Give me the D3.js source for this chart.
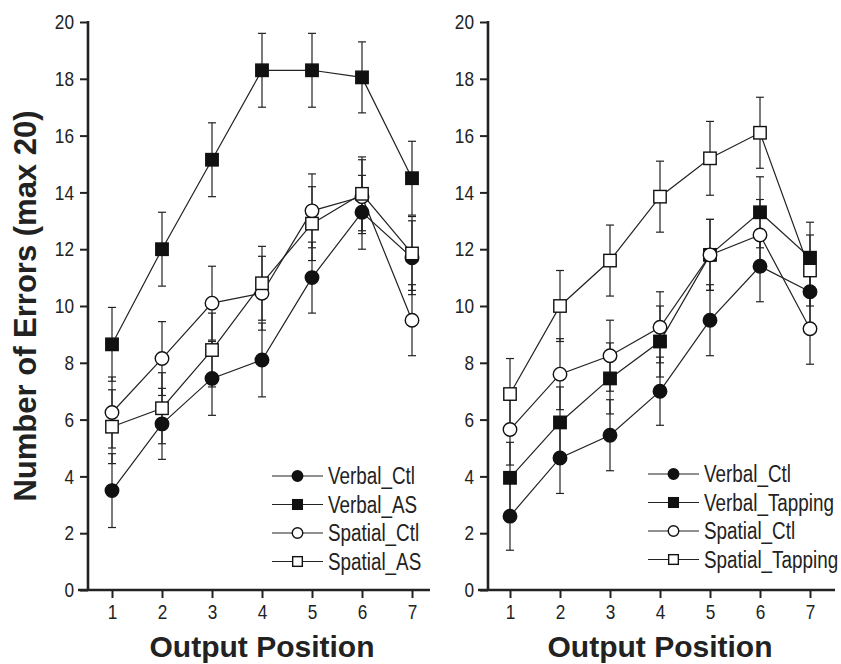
<!DOCTYPE html>
<html>
<head>
<meta charset="utf-8">
<script src="https://cdn.jsdelivr.net/npm/d3@7"></script>
<style>
  body { margin: 0; background: #fff; }
  svg { display: block; }
</style>
</head>
<body>
<div id="chart"></div>
<script>
// Errors by output position, two panels

const positions = [1, 2, 3, 4, 5, 6, 7];
const yTicks = [0, 2, 4, 6, 8, 10, 12, 14, 16, 18, 20];

// left panel (articulatory suppression)
const leftNames = ["Verbal_Ctl", "Verbal_AS", "Spatial_Ctl", "Spatial_AS"];
const leftVerbalCtl = [3.5, 5.85, 7.45, 8.1, 11.0, 13.3, 11.7];
const leftVerbalAS = [8.65, 12.0, 15.15, 18.3, 18.3, 18.05, 14.5];
const leftSpatialCtl = [6.25, 8.15, 10.1, 10.45, 13.35, 13.85, 9.5];
const leftSpatialAS = [5.75, 6.4, 8.45, 10.8, 12.9, 13.95, 11.85];
const leftErrVerbalCtl = [1.3, 1.25, 1.3, 1.3, 1.25, 1.3, 1.3];
const leftErrVerbalAS = [1.3, 1.3, 1.3, 1.3, 1.3, 1.25, 1.3];
const leftErrSpatialCtl = [1.25, 1.3, 1.3, 1.3, 1.3, 1.3, 1.25];
const leftErrSpatialAS = [1.3, 1.25, 1.3, 1.3, 1.3, 1.3, 1.3];

// right panel (tapping)
const rightNames = ["Verbal_Ctl", "Verbal_Tapping", "Spatial_Ctl", "Spatial_Tapping"];
const rightVerbalCtl = [2.6, 4.65, 5.45, 7.0, 9.5, 11.4, 10.5];
const rightVerbalTap = [3.95, 5.9, 7.45, 8.75, 11.8, 13.3, 11.7];
const rightSpatialCtl = [5.65, 7.6, 8.25, 9.25, 11.8, 12.5, 9.2];
const rightSpatialTap = [6.9, 10.0, 11.6, 13.85, 15.2, 16.1, 11.25];
const rightErrVerbalCtl = [1.2, 1.25, 1.25, 1.2, 1.25, 1.25, 1.25];
const rightErrVerbalTap = [1.25, 1.25, 1.25, 1.25, 1.25, 1.25, 1.25];
const rightErrSpatialCtl = [1.25, 1.25, 1.25, 1.25, 1.25, 1.25, 1.25];
const rightErrSpatialTap = [1.25, 1.25, 1.25, 1.25, 1.3, 1.25, 1.25];

const markers = ["filledCircle", "filledSquare", "openCircle", "openSquare"];

const W = 841, H = 664;
const font = "'Liberation Sans', Arial, sans-serif";
const narrow = 0.82; // squeeze to look like Arial Narrow

const svg = d3.select("#chart").append("svg")
    .attr("width", W)
    .attr("height", H);

const y = d3.scaleLinear().domain([0, 20]).range([590, 22]);

function drawMarker(g, type, cx, cy, size) {
    const filled = type.startsWith("filled");
    if (type.endsWith("Circle")) {
        g.append("circle")
            .attr("cx", cx).attr("cy", cy).attr("r", size / 2)
            .attr("fill", filled ? "#111" : "#fff")
            .attr("stroke", "#111").attr("stroke-width", 1.4);
    } else {
        const s = size * 0.92;
        g.append("rect")
            .attr("x", cx - s / 2).attr("y", cy - s / 2)
            .attr("width", s).attr("height", s)
            .attr("fill", filled ? "#111" : "#fff")
            .attr("stroke", "#111").attr("stroke-width", 1.4);
    }
}

function panel(opts) {
    const x = d3.scaleLinear().domain(opts.xDomain).range(opts.xRange);
    const g = svg.append("g");
    const x0 = opts.xRange[0];

    // y axis
    const yAxis = g.append("g")
        .attr("transform", `translate(${x0},0)`)
        .call(d3.axisLeft(y).tickValues(yTicks).tickSize(8).tickPadding(5).tickSizeOuter(0));
    yAxis.select(".domain").remove();
    yAxis.selectAll(".tick line").attr("stroke", "#222").attr("stroke-width", 2);
    yAxis.selectAll("text")
        .attr("x", -14 / narrow)
        .attr("transform", `scale(${narrow},1)`)
        .attr("font-family", font)
        .attr("font-size", 21)
        .attr("fill", "#222");

    // x axis
    const xAxis = g.append("g")
        .attr("transform", `translate(0,${y(0)})`)
        .call(d3.axisBottom(x).tickValues(positions).tickSize(8).tickPadding(6).tickFormat(d3.format("d")));
    xAxis.select(".domain").remove();
    xAxis.selectAll(".tick line").attr("stroke", "#222").attr("stroke-width", 2);
    xAxis.selectAll("text")
        .attr("transform", `scale(${narrow},1)`)
        .attr("font-family", font)
        .attr("font-size", 21)
        .attr("fill", "#222");

    g.append("line")
        .attr("x1", x0).attr("x2", x0)
        .attr("y1", y(0)).attr("y2", y(20) - 1)
        .attr("stroke", "#222").attr("stroke-width", 2.6);
    g.append("line")
        .attr("x1", x0 - 10).attr("x2", opts.xRange[1])
        .attr("y1", y(0)).attr("y2", y(0))
        .attr("stroke", "#222").attr("stroke-width", 2.6);

    const line = d3.line().x((d, i) => x(positions[i])).y(d => y(d));

    // error bars
    opts.series.forEach((vals, k) => {
        const err = opts.errors[k];
        vals.forEach((v, i) => {
            const px = x(positions[i]);
            const lo = y(v - err[i]), hi = y(v + err[i]);
            g.append("line").attr("x1", px).attr("x2", px).attr("y1", lo).attr("y2", hi)
                .attr("stroke", "#222").attr("stroke-width", 1.2);
            [lo, hi].forEach(yy => {
                g.append("line").attr("x1", px - 4).attr("x2", px + 4).attr("y1", yy).attr("y2", yy)
                    .attr("stroke", "#222").attr("stroke-width", 1.2);
            });
        });
    });

    // lines
    opts.series.forEach(vals => {
        g.append("path")
            .attr("d", line(vals))
            .attr("fill", "none")
            .attr("stroke", "#222")
            .attr("stroke-width", 1.2);
    });

    // markers
    opts.series.forEach((vals, k) => {
        vals.forEach((v, i) => drawMarker(g, markers[k], x(positions[i]), y(v), 13.5));
    });

    // legend
    const lg = g.append("g");
    opts.names.forEach((name, k) => {
        const ly = opts.legendY + k * 28.5;
        lg.append("line")
            .attr("x1", opts.legendX).attr("x2", opts.legendX + 51)
            .attr("y1", ly).attr("y2", ly)
            .attr("stroke", "#222").attr("stroke-width", 1.2);
        drawMarker(lg, markers[k], opts.legendX + 25.5, ly, 10.5);
        lg.append("text")
            .attr("transform", `translate(${opts.legendX + 56},${ly}) scale(${narrow},1)`)
            .attr("dy", "0.36em")
            .attr("font-family", font)
            .attr("font-size", 23)
            .attr("fill", "#222")
            .text(name);
    });

    // x title
    g.append("text")
        .attr("x", (x(1) + x(7)) / 2)
        .attr("y", 657)
        .attr("text-anchor", "middle")
        .attr("font-family", font)
        .attr("font-weight", "bold")
        .attr("font-size", 30)
        .attr("fill", "#222")
        .text("Output Position");
}

panel({
    xDomain: [0.52, 7.36], xRange: [88, 430],
    series: [leftVerbalCtl, leftVerbalAS, leftSpatialCtl, leftSpatialAS],
    errors: [leftErrVerbalCtl, leftErrVerbalAS, leftErrSpatialCtl, leftErrSpatialAS],
    names: leftNames, legendX: 272, legendY: 476
});

panel({
    xDomain: [0.56, 7.5], xRange: [488, 835],
    series: [rightVerbalCtl, rightVerbalTap, rightSpatialCtl, rightSpatialTap],
    errors: [rightErrVerbalCtl, rightErrVerbalTap, rightErrSpatialCtl, rightErrSpatialTap],
    names: rightNames, legendX: 648, legendY: 474
});

// y title
svg.append("text")
    .attr("transform", "translate(36,306) rotate(-90)")
    .attr("text-anchor", "middle")
    .attr("font-family", font)
    .attr("font-weight", "bold")
    .attr("font-size", 31)
    .attr("fill", "#222")
    .text("Number of Errors (max 20)");
</script>
</body>
</html>
